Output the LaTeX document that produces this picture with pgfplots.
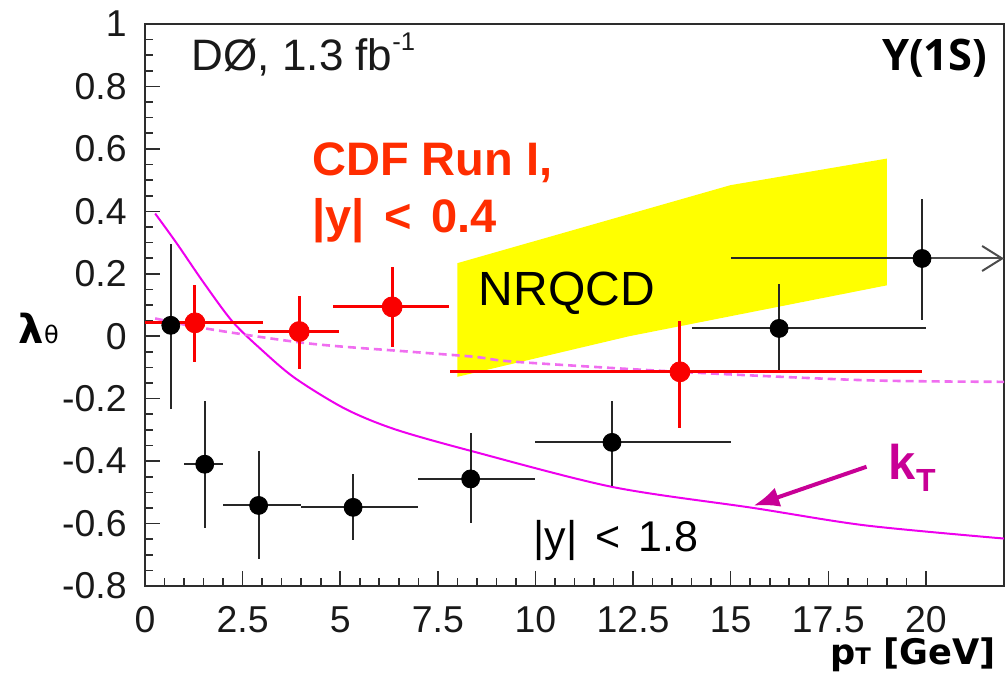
\documentclass[border=0pt]{standalone}
\usepackage{fontspec}
\setmainfont{Liberation Sans}
\newfontfamily\titlefont{Open Sans}
\newfontfamily\axisfont{DejaVu Sans}
\usepackage{pgfplots}
\usepackage{pgfplotstable}
\pgfplotsset{compat=1.18}
\usetikzlibrary{arrows.meta}

\definecolor{cdfred}{RGB}{250,0,0}
\definecolor{cdftext}{RGB}{255,45,0}
\definecolor{ktline}{RGB}{238,0,238}
\definecolor{ktdash}{RGB}{240,110,240}
\definecolor{kttext}{RGB}{200,0,150}
\definecolor{bandyel}{RGB}{255,255,0}
\definecolor{framecol}{RGB}{45,45,45}

% D0 Run II, |y| < 1.8
\pgfplotstableread{
x     y       xm    xp    ym     yp
0.66  0.035   0     0     0.267  0.262
1.53  -0.410  0.53  0.47  0.205  0.203
2.91  -0.542  0.91  1.09  0.173  0.175
5.33  -0.548  1.33  1.67  0.106  0.108
8.34  -0.457  1.34  1.66  0.141  0.146
11.96 -0.340  1.96  3.04  0.140  0.133
16.24 0.025   2.24  3.76  0.132  0.142
19.90 0.249   4.90  0     0.196  0.190
}\dzero

% CDF Run I, |y| < 0.4
\pgfplotstableread{
x     y       xm    xp    ym     yp
1.28  0.043   1.28  1.75  0.125  0.120
3.95  0.015   1.05  1.02  0.119  0.113
6.33  0.094   1.51  1.45  0.128  0.128
13.70 -0.114  5.90  6.20  0.179  0.163
}\cdf

\begin{document}
\begin{tikzpicture}
\begin{axis}[
  at={(0,0)}, anchor=south west,
  scale only axis, width=429.5pt, height=281pt,
  xmin=0, xmax=22, ymin=-0.8, ymax=1,
  clip=false,
  axis line style={draw=framecol, line width=1pt},
  tick pos=left, tick align=inside,
  xtick={0,2.5,5,7.5,10,12.5,15,17.5,20},
  xticklabels={0,2.5,5,7.5,10,12.5,15,17.5,20},
  ytick={-0.8,-0.6,-0.4,-0.2,0,0.2,0.4,0.6,0.8,1},
  yticklabels={-0.8,-0.6,-0.4,-0.2,0,0.2,0.4,0.6,0.8,1},
  minor x tick num=4, minor y tick num=3,
  major tick length=7.5pt, minor tick length=4pt,
  every tick/.append style={framecol, line width=0.8pt},
  ticklabel style={font=\fontsize{18.7}{18.7}\selectfont, text=black!90, inner sep=0pt},
  xticklabel style={yshift=-10pt},
  yticklabel style={xshift=-9pt},
  every node/.append style={inner sep=0pt},
]

% NRQCD prediction band
\addplot[fill=bandyel, draw=none] coordinates {
  (8,-0.13) (8,0.234) (15,0.484) (19,0.569) (19,0.163) (12.4,0.0) (8,-0.13)
} -- cycle;

% kT-factorisation curves
\addplot[ktline, line width=1pt, smooth] coordinates {
  (0.26,0.393) (0.81,0.298) (1.5,0.172) (2.24,0.047) (2.99,-0.044) (3.84,-0.134)
  (5.12,-0.232) (6.40,-0.298) (8.37,-0.368) (11.98,-0.483)
  (15.58,-0.550) (18.46,-0.606) (22,-0.648)
};
\addplot[ktdash, line width=1.3pt, dash pattern=on 4pt off 2.5pt, smooth] coordinates {
  (0.26,0.057) (1.54,0.025) (4.18,-0.023) (6.83,-0.050) (8.45,-0.066)
  (9.5,-0.082) (13.68,-0.114) (18.46,-0.141) (22,-0.146)
};

% D0 measurement
\addplot[black, only marks, mark=*, mark size=4.5pt,
  error bars/.cd, x dir=both, x explicit, y dir=both, y explicit,
  error mark=none, error bar style={line width=1pt, black!85}]
  table[x=x, y=y, x error plus=xp, x error minus=xm, y error plus=yp, y error minus=ym] {\dzero};
\addplot[black!70, line width=1pt, -{Straight Barb[length=10pt, width=12.5pt, line width=1pt]}]
  coordinates {(19.9,0.249) (22,0.249)};

% CDF Run I measurement
\addplot[cdfred, only marks, mark=*, mark size=5pt,
  error bars/.cd, x dir=both, x explicit, y dir=both, y explicit,
  error mark=none, error bar style={line width=1.5pt, cdfred}]
  table[x=x, y=y, x error plus=xp, x error minus=xm, y error plus=yp, y error minus=ym] {\cdf};

% annotations
\node[anchor=base west, font=\fontsize{22}{22}\selectfont, text=black!90]
  at (axis cs:1.02,0.85) {DØ, 1.3 fb\raisebox{10pt}{\fontsize{12.8}{12.8}\selectfont -1}};
\node[anchor=base east, font=\titlefont\bfseries\fontsize{21.7}{21.7}\selectfont]
  at (axis cs:21.75,0.85) {Υ(1S)};
\node[anchor=base west, font=\bfseries\fontsize{23.5}{23.5}\selectfont, text=cdftext]
  at (axis cs:4.10,0.516) {CDF Run I,};
\node[anchor=base west, font=\bfseries\fontsize{23.5}{23.5}\selectfont, text=cdftext]
  at (axis cs:4.10,0.331) {|y|\hspace{0.42em}<\hspace{0.42em}0.4};
\node[anchor=base west, font=\fontsize{24}{24}\selectfont]
  at (axis cs:8.37,0.10) {NRQCD};
\node[anchor=base west, font=\fontsize{21.5}{21.5}\selectfont]
  at (axis cs:9.77,-0.69) {|y|\hspace{0.42em}<\hspace{0.42em}1.8};
\node[anchor=base west, font=\bfseries\fontsize{24.4}{24.4}\selectfont, text=kttext]
  at (axis cs:18.87,-0.46) {k\raisebox{-5.8pt}{\fontsize{16}{16}\selectfont T}};
\draw[kttext, line width=2pt, -{Latex[length=13pt, width=10pt]}]
  (axis cs:18.48,-0.418) -- (axis cs:15.58,-0.543);

% axis titles
\node[anchor=base west, font=\axisfont\bfseries\fontsize{20}{20}\selectfont]
  at (axis cs:-3.41,-0.023) {λ{\mdseries\fontsize{12}{12}\selectfont θ}};
\node[anchor=base east, font=\axisfont\bfseries\fontsize{17.6}{17.6}\selectfont]
  at (axis cs:21.96,-1.05) {p{\fontsize{11.4}{11.4}\selectfont T} [GeV]};
\end{axis}
% fixed page frame around the axis and its labels
\pgfresetboundingbox
\useasboundingbox (-72.5pt,-45.5pt) rectangle (430pt,293pt);
\end{tikzpicture}
\end{document}
